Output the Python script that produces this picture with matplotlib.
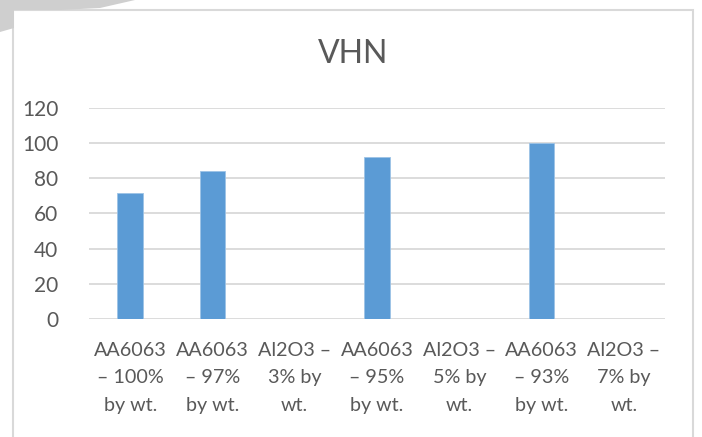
import matplotlib
matplotlib.use("Agg")
import matplotlib.pyplot as plt
import numpy as np
from matplotlib.patches import Rectangle, Polygon

categories = ["AA6063\n– 100%\nby wt.", "AA6063\n– 97%\nby wt.", "Al2O3 –\n3% by\nwt.",
              "AA6063\n– 95%\nby wt.", "Al2O3 –\n5% by\nwt.", "AA6063\n– 93%\nby wt.",
              "Al2O3 –\n7% by\nwt."]
values = [71.5, 84, np.nan, 92, np.nan, 100, np.nan]
yticks = [0, 20, 40, 60, 80, 100, 120]
title = "VHN"

plt.rcParams['font.family'] = ['Lato', 'DejaVu Sans']
txt = '#595959'
grid = '#D9D9D9'

W, H = 702, 437
fig = plt.figure(figsize=(W/100, H/100), dpi=100)
fig.patch.set_facecolor('white')

# chart border
fig.add_artist(Rectangle((13/W, -0.05), (693-13)/W, 1 - 10/H + 0.05, transform=fig.transFigure,
                         fill=False, edgecolor=grid, linewidth=1.5))
# grey artifact top-left
pts = [(0, H), (135, H), (100, H-8), (60, H-10), (14, H-10), (14, H-28), (0, H-32)]
fig.add_artist(Polygon([(x/W, y/H) for x, y in pts], closed=True, transform=fig.transFigure,
                       facecolor='#CFCFCF', edgecolor='none'))

ax = fig.add_axes([89/W, 1-319.3/H, (665-89)/W, (319.3-107.5)/H])
x = np.arange(len(categories))
ax.bar(x, values, width=0.31, color='#5B9BD5', edgecolor='#9DC3E6', linewidth=0.6, zorder=3)
ax.set_xlim(-0.5, len(categories)-0.5)
ax.set_ylim(0, 120)
ax.set_yticks(yticks)
ax.set_yticklabels([str(v) for v in yticks], fontsize=15, color=txt)
ax.set_xticks(x)
ax.set_xticklabels(categories, fontsize=14.2, color=txt, linespacing=1.75)
ax.tick_params(axis='both', length=0)
ax.tick_params(axis='y', pad=22)
ax.tick_params(axis='x', pad=16)
ax.grid(axis='y', color=grid, linewidth=1.3, zorder=0)
for s in ax.spines.values():
    s.set_visible(False)
ax.set_axisbelow(True)

fig.text(353/W, 1-54/H, title, ha='center', va='center', fontsize=23, color=txt)

fig.savefig('out.png', dpi=100, facecolor='white')
